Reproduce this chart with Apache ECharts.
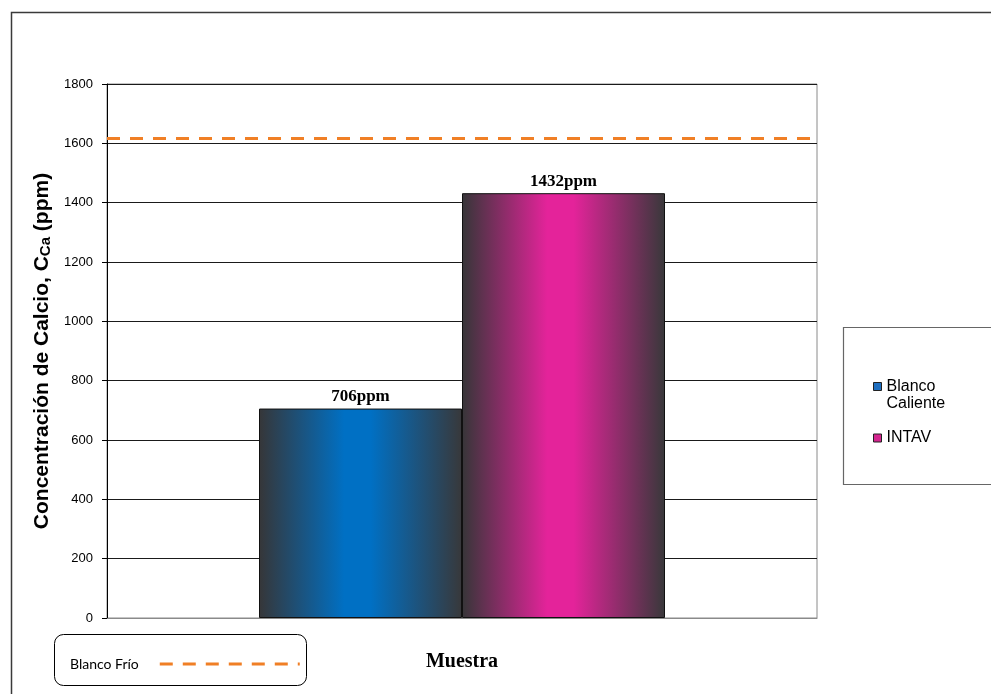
<!DOCTYPE html>
<html>
<head>
<meta charset="utf-8">
<script src="https://cdn.jsdelivr.net/npm/echarts@6/dist/echarts.min.js"></script>
<style>
  html, body { margin: 0; padding: 0; background: #fff; }
  #chart { width: 991px; height: 694px; }
</style>
</head>
<body>
<div id="chart"></div>
<script>
// Calcium concentration per sample, with the cold blank as a reference level
const categories = [''];
const seriesNames = ['Blanco Caliente', 'INTAV'];
const blancoCaliente = [706];
const intav = [1432];
const blancoFrio = 1617;
const yTicks = { min: 0, max: 1800, interval: 200 };

const chart = echarts.init(document.getElementById('chart'), null, { renderer: 'canvas' });

function barGradient(mid) {
  return new echarts.graphic.LinearGradient(0, 0, 1, 0, [
    { offset: 0, color: '#363638' },
    { offset: 0.42, color: mid },
    { offset: 0.55, color: mid },
    { offset: 1, color: '#38383a' }
  ]);
}

const labelStyle = {
  show: true,
  position: 'top',
  distance: 3,
  fontFamily: 'Liberation Serif',
  fontWeight: 'bold',
  fontSize: 17,
  color: '#000',
  formatter: p => p.value + 'ppm'
};

// dashed legend glyph for the reference line
const dashIcon = 'path://M0,0h13v3h-13z M23,0h13v3h-13z M46,0h13v3h-13z M69,0h13v3h-13z M92,0h13v3h-13z M115,0h13v3h-13z M138,0h2v3h-2z';

chart.setOption({
  animation: false,
  backgroundColor: '#fff',
  grid: {
    left: 107, right: 174, top: 84, bottom: 76,
    show: true, borderColor: '#8a8a8a', borderWidth: 1
  },
  xAxis: {
    type: 'category',
    data: categories,
    boundaryGap: true,
    name: 'Muestra',
    nameLocation: 'middle',
    nameGap: 34,
    nameTextStyle: { fontFamily: 'Liberation Serif', fontWeight: 'bold', fontSize: 20, color: '#000' },
    axisLine: { show: true, lineStyle: { color: '#8a8a8a', width: 1 } },
    axisTick: { show: false },
    axisLabel: { show: false }
  },
  yAxis: {
    type: 'value',
    min: yTicks.min, max: yTicks.max, interval: yTicks.interval,
    name: '{a|Concentración de Calcio, C}{s|Ca}{a| (ppm)}',
    nameLocation: 'middle',
    nameGap: 46,
    nameRotate: 90,
    nameTextStyle: {
      rich: {
        a: { fontFamily: 'Liberation Sans', fontWeight: 'bold', fontSize: 21, color: '#000' },
        s: { fontFamily: 'Liberation Sans', fontWeight: 'bold', fontSize: 15, color: '#000', padding: [7, 0, 0, 0] }
      }
    },
    axisLine: { show: true, lineStyle: { color: '#000', width: 1 } },
    axisTick: { show: true, inside: false, length: 5, lineStyle: { color: '#000' } },
    axisLabel: {
      fontFamily: 'Liberation Sans', fontSize: 13, color: '#000', margin: 14,
      formatter: v => String(v)
    },
    splitLine: { show: true, lineStyle: { color: '#1a1a1a', width: 1 } }
  },
  legend: [
    {
      data: [{ name: seriesNames[0], itemStyle: { color: '#1f6fc0', borderColor: '#222', borderWidth: 1 } }],
      left: 868, top: 356,
      icon: 'rect', itemWidth: 8, itemHeight: 8,
      formatter: () => ' \nBlanco\nCaliente',
      textStyle: { fontFamily: 'Liberation Sans', fontSize: 16, color: '#000', lineHeight: 17 },
      selectedMode: false
    },
    {
      data: [{ name: seriesNames[1], itemStyle: { color: '#d4258f', borderColor: '#222', borderWidth: 1 } }],
      left: 868, top: 425,
      icon: 'rect', itemWidth: 8, itemHeight: 8,
      textStyle: { fontFamily: 'Liberation Sans', fontSize: 16, color: '#000' },
      selectedMode: false
    },
    {
      data: [{ name: 'Blanco Frío', icon: dashIcon, itemStyle: { color: '#f07f25' } }],
      left: 65, top: 652,
      align: 'right',
      itemWidth: 140, itemHeight: 3,
      textStyle: { fontFamily: 'Lato', fontSize: 14, color: '#000', padding: [0, 16, 0, 0] },
      selectedMode: false
    }
  ],
  graphic: [
    { type: 'rect', silent: true, z: -1, shape: { x: 11.5, y: 12.5, width: 1000, height: 700 },
      style: { fill: 'none', stroke: '#3a3a3a', lineWidth: 1.5 } },
    { type: 'rect', silent: true, shape: { x: 843.5, y: 327.5, width: 160, height: 157 },
      style: { fill: '#fff', stroke: '#666', lineWidth: 1.2 }, z: 0 },
    { type: 'rect', silent: true, shape: { x: 54.5, y: 634.5, width: 252, height: 51, r: 9 },
      style: { fill: '#fff', stroke: '#000', lineWidth: 1 }, z: 0 }
  ],
  series: [
    {
      name: seriesNames[0],
      type: 'bar',
      data: blancoCaliente,
      barWidth: 203,
      barGap: '0%',
      itemStyle: { color: barGradient('#0070c4'), borderColor: '#111', borderWidth: 1 },
      label: labelStyle
    },
    {
      name: seriesNames[1],
      type: 'bar',
      data: intav,
      barWidth: 203,
      barGap: '0%',
      itemStyle: { color: barGradient('#e4239a'), borderColor: '#111', borderWidth: 1 },
      label: labelStyle
    },
    {
      name: 'Blanco Frío',
      type: 'line',
      data: [],
      symbol: 'none',
      itemStyle: { color: '#f07f25' },
      lineStyle: { color: '#f07f25', width: 3, type: [13, 10] },
      markLine: {
        silent: true,
        symbol: ['none', 'none'],
        label: { show: false },
        lineStyle: { color: '#f07f25', width: 3, type: [13, 10] },
        data: [{ yAxis: blancoFrio }]
      }
    }
  ]
});
</script>
</body>
</html>
